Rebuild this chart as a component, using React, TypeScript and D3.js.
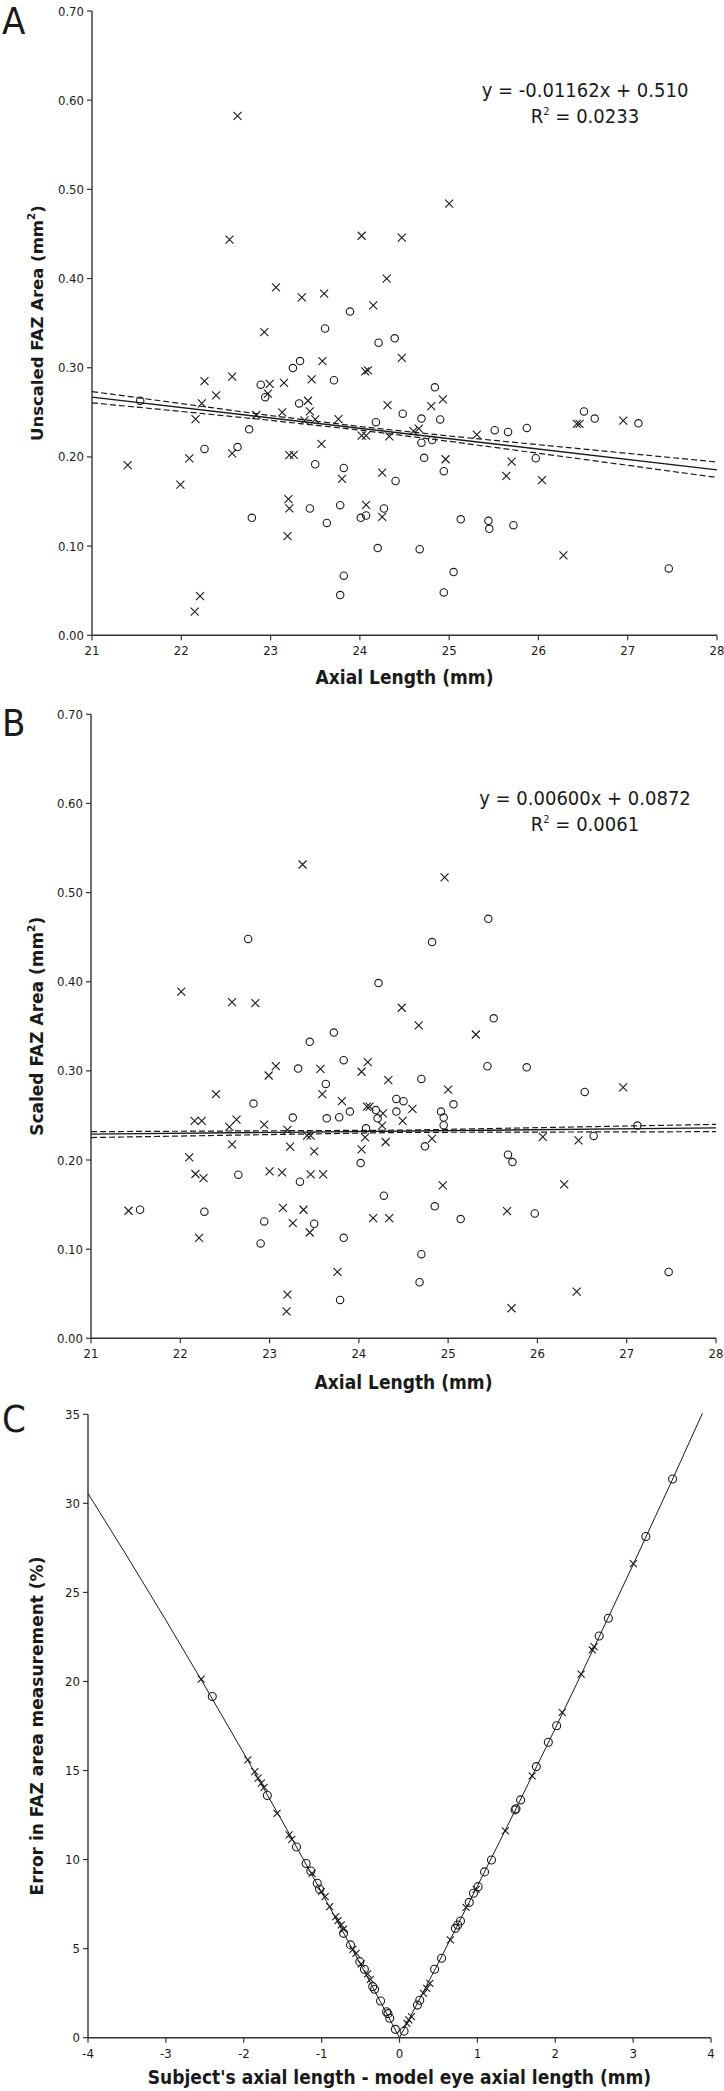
import React from "react";
import * as d3 from "d3";

const W = 724;
const H = 2091;

// ---------- Panel A: unscaled FAZ area vs axial length ----------
const aCrossAL = [22.63,22.54,25.00,24.02,24.47,24.30,23.06,23.35,23.60,24.15,22.93,24.47,23.58,23.46,24.06,24.09,23.15,22.99,22.97,22.57,22.26,22.39,22.23,22.16,22.84,23.13,23.42,23.44,23.38,23.50,23.76,24.93,24.80,24.31,24.66,24.60,24.02,24.07,24.33,25.31,26.43,26.46,26.95,23.57,23.21,23.26,21.40,22.09,22.57,23.80,24.96,24.25,25.70,25.64,26.04,21.99,23.20,23.21,24.07,24.25,23.19,26.28,22.21,22.15];
const aCrossArea = [0.5825,0.4437,0.484,0.448,0.446,0.400,0.390,0.379,0.383,0.370,0.340,0.311,0.3075,0.287,0.296,0.297,0.283,0.282,0.271,0.290,0.285,0.269,0.260,0.2425,0.247,0.250,0.263,0.251,0.241,0.242,0.2425,0.2646,0.257,0.258,0.2317,0.229,0.224,0.224,0.223,0.225,0.237,0.237,0.2407,0.2146,0.2019,0.2022,0.1907,0.1985,0.204,0.1754,0.1974,0.1825,0.1948,0.1787,0.1739,0.169,0.1526,0.1422,0.1463,0.1328,0.1112,0.0896,0.044,0.0265];
const aCircleAL = [23.89,23.61,24.21,24.39,23.33,23.25,23.71,22.89,22.94,21.54,22.76,23.32,24.84,24.48,24.69,24.90,24.18,24.69,24.81,25.51,25.66,25.87,26.51,26.63,27.12,22.26,22.63,23.50,23.82,24.72,24.94,24.40,25.97,23.44,23.78,24.27,22.79,23.63,24.01,24.07,25.13,25.44,25.45,25.72,24.20,24.67,27.46,25.05,23.82,23.78,24.94];
const aCircleArea = [0.363,0.344,0.328,0.333,0.3075,0.2996,0.286,0.281,0.267,0.263,0.231,0.260,0.278,0.2485,0.243,0.242,0.239,0.216,0.219,0.230,0.228,0.2325,0.251,0.243,0.2377,0.209,0.211,0.1918,0.1877,0.199,0.184,0.173,0.1985,0.1422,0.1459,0.1422,0.1317,0.126,0.1317,0.1343,0.130,0.1284,0.1194,0.1235,0.0978,0.0966,0.075,0.0709,0.0668,0.0451,0.0481];
const aFitX = [21, 28];
const aFitY = [0.2670, 0.1856];
const aCiX = [21, 22, 23, 24, 25, 26, 27, 28];
const aCiUpper = [0.2733, 0.2598, 0.2464, 0.2341, 0.2235, 0.2137, 0.2040, 0.1943];
const aCiLower = [0.2607, 0.2510, 0.2410, 0.2301, 0.2175, 0.2041, 0.1906, 0.1769];
const aEquation = "y = -0.01162x + 0.510";
const aR2 = "0.0233";

// ---------- Panel B: scaled FAZ area vs axial length ----------
const bCrossAL = [23.37,24.96,22.01,22.58,22.84,24.48,24.67,25.31,24.10,23.07,22.99,23.57,24.03,24.33,26.96,25.00,22.40,23.59,23.81,24.09,24.12,24.60,24.27,22.16,22.24,22.63,24.49,22.94,22.55,24.26,23.20,23.42,23.46,24.07,24.82,26.06,26.46,24.30,22.58,23.23,23.50,24.03,22.10,22.17,22.26,23.00,23.14,23.46,23.60,24.94,26.30,23.15,23.38,21.42,25.66,24.16,24.34,23.26,23.45,22.21,23.76,26.44,23.20,25.71,23.19];
const bCrossArea = [0.5315,0.517,0.389,0.3772,0.376,0.3708,0.351,0.3408,0.3097,0.3052,0.2948,0.3022,0.299,0.2895,0.2816,0.279,0.2738,0.2738,0.266,0.260,0.260,0.2573,0.2524,0.244,0.244,0.2453,0.2438,0.2397,0.2371,0.2386,0.2337,0.2273,0.2273,0.2255,0.224,0.226,0.222,0.2202,0.2176,0.215,0.2097,0.212,0.203,0.1843,0.1798,0.1873,0.1861,0.1839,0.1839,0.1716,0.1727,0.1464,0.1442,0.1431,0.1427,0.1348,0.1348,0.1292,0.1187,0.1127,0.0745,0.0524,0.049,0.0337,0.0303];
const bCircleAL = [25.45,22.76,24.82,24.22,25.51,23.72,23.45,23.83,23.32,25.44,25.88,24.70,23.63,26.53,24.42,24.50,22.82,25.06,24.19,23.90,24.42,24.92,23.26,23.64,23.78,24.21,24.95,24.95,27.12,24.08,26.63,24.74,25.67,25.72,24.02,22.65,23.34,24.28,24.85,21.55,22.27,25.97,25.14,22.94,23.50,23.83,22.90,24.70,27.47,24.68,23.79];
const bCircleArea = [0.4706,0.448,0.4445,0.3985,0.359,0.343,0.3326,0.312,0.3026,0.3052,0.304,0.291,0.2854,0.2764,0.2685,0.266,0.2633,0.2625,0.256,0.2543,0.2543,0.2543,0.2476,0.2468,0.248,0.2468,0.2476,0.239,0.2386,0.2356,0.227,0.2154,0.206,0.1977,0.1966,0.1835,0.1757,0.160,0.148,0.1442,0.142,0.140,0.1337,0.1311,0.1285,0.1127,0.1064,0.0944,0.0745,0.0629,0.043];
const bFitX = [21, 28];
const bFitY = [0.2290, 0.2360];
const bCiX = [21, 24.5, 28];
const bCiUpper = [0.2318, 0.2335, 0.2400];
const bCiLower = [0.2252, 0.2310, 0.2318];
const bEquation = "y = 0.00600x + 0.0872";
const bR2 = "0.0061";

// ---------- Panel C: error vs axial length difference ----------
const cCrossDiff = [-2.546,-1.947,-1.858,-1.816,-1.774,-1.739,-1.573,-1.418,-1.383,-1.122,-1.003,-0.955,-0.896,-0.819,-0.789,-0.748,-0.718,-0.599,-0.558,-0.493,-0.41,-0.374,0.095,0.119,0.154,0.309,0.35,0.39,0.653,0.855,0.985,1.359,1.703,2.089,2.332,2.475,2.498,3.003];
const cCrossErr = [20.13,15.6,14.94,14.57,14.29,14.06,12.6,11.39,11.14,9.23,8.20,7.92,7.36,6.80,6.57,6.33,6.10,4.96,4.74,4.14,3.58,3.28,0.8,1.0,1.18,2.49,2.77,3.05,5.49,7.32,8.33,11.61,14.7,18.26,20.41,21.78,21.96,26.62];
const cCircleDiff = [-2.404,-1.697,-1.323,-1.199,-1.139,-1.056,-1.027,-0.718,-0.629,-0.510,-0.451,-0.344,-0.32,-0.243,-0.166,-0.148,-0.125,-0.053,0.059,0.23,0.26,0.451,0.54,0.718,0.748,0.783,0.896,0.95,1.009,1.092,1.181,1.484,1.496,1.555,1.757,1.911,2.018,2.564,2.682,3.163,3.507];
const cCircleErr = [19.16,13.6,10.71,9.78,9.36,8.67,8.35,5.86,5.21,4.27,3.84,2.87,2.72,2.06,1.46,1.35,1.09,0.47,0.37,1.83,2.1,3.84,4.46,6.14,6.33,6.55,7.60,8.11,8.48,9.31,9.98,12.79,12.85,13.35,15.22,16.59,17.51,22.55,23.55,28.14,31.37];
const cCurveDiff = [-4, -3.5, -3, -2.5, -2, -1.5, -1, -0.5, 0, 0.5, 1, 1.5, 2, 2.5, 3, 3.5, 3.89];
const cCurveErr = [30.56, 27.04, 23.44, 19.75, 15.97, 12.11, 8.16, 4.12, 0, 4.21, 8.51, 12.89, 17.36, 21.92, 26.56, 31.29, 35.06];

const alTicks = [21, 22, 23, 24, 25, 26, 27, 28];
const areaTicks = [0, 0.1, 0.2, 0.3, 0.4, 0.5, 0.6, 0.7];
const diffTicks = [-4, -3, -2, -1, 0, 1, 2, 3, 4];
const errTicks = [0, 5, 10, 15, 20, 25, 30, 35];

const COND = "'Liberation Sans Narrow','DejaVu Sans Condensed','Arial Narrow',sans-serif";
const WIDE = "'DejaVu Sans','Verdana',sans-serif";
const INK = "#1a1a1a";

function Cross({ x, y, s }: { x: number; y: number; s: number }) {
  return (
    <path
      d={`M${x - s},${y - s}L${x + s},${y + s}M${x - s},${y + s}L${x + s},${y - s}`}
      stroke={INK}
      strokeWidth={1.1}
      fill="none"
    />
  );
}

function Ring({ x, y, r }: { x: number; y: number; r: number }) {
  return <circle cx={x} cy={y} r={r} stroke={INK} strokeWidth={1.1} fill="none" />;
}

function Axes({
  xs, ys, xTicks, yTicks, xFmt, yFmt,
}: {
  xs: d3.ScaleLinear<number, number>;
  ys: d3.ScaleLinear<number, number>;
  xTicks: number[];
  yTicks: number[];
  xFmt: (v: number) => string;
  yFmt: (v: number) => string;
}) {
  const [x0, x1] = xs.range();
  const [y0, y1] = ys.range();
  return (
    <g>
      <line x1={x0} x2={x1} y1={y0} y2={y0} stroke="#333" strokeWidth={1.4} />
      <line x1={x0} x2={x0} y1={y0} y2={y1} stroke="#333" strokeWidth={1.4} />
      {yTicks.map((t) => (
        <g key={"y" + t}>
          <line x1={x0 - 5} x2={x0} y1={ys(t)} y2={ys(t)} stroke="#333" strokeWidth={1.2} />
          <text x={x0 - 8} y={ys(t) + 4.5} textAnchor="end" fontFamily={COND} fontSize={13} fill={INK}>
            {yFmt(t)}
          </text>
        </g>
      ))}
      {xTicks.map((t) => (
        <g key={"x" + t}>
          <line x1={xs(t)} x2={xs(t)} y1={y0} y2={y0 + 5} stroke="#333" strokeWidth={1.2} />
          <text x={xs(t)} y={y0 + 20} textAnchor="middle" fontFamily={COND} fontSize={13} fill={INK}>
            {xFmt(t)}
          </text>
        </g>
      ))}
    </g>
  );
}

function ScatterPanel({
  top, bottom, left, right, letter, letterY, yTitle, yTitleSize, xTitleY,
  crossX, crossY, circX, circY, fitX, fitY, ciX, ciUp, ciLo, eq, r2, eqY,
}: any) {
  const xs = d3.scaleLinear().domain([21, 28]).range([left, right]);
  const ys = d3.scaleLinear().domain([0, 0.7]).range([bottom, top]);
  const line = d3.line<[number, number]>().x((d) => xs(d[0])).y((d) => ys(d[1]));
  const fit = line(fitX.map((x: number, i: number) => [x, fitY[i]]));
  const up = line(ciX.map((x: number, i: number) => [x, ciUp[i]]));
  const lo = line(ciX.map((x: number, i: number) => [x, ciLo[i]]));
  const fmt2 = d3.format(".2f");
  const cx = (left + right) / 2;
  return (
    <g>
      <text x={2} y={letterY} fontFamily={COND} fontSize={38} fill={INK}>{letter}</text>
      <Axes xs={xs} ys={ys} xTicks={alTicks} yTicks={areaTicks} xFmt={(v) => String(v)} yFmt={fmt2} />
      <path d={fit || ""} stroke={INK} strokeWidth={1.3} fill="none" />
      <path d={up || ""} stroke={INK} strokeWidth={1.2} strokeDasharray="6,3" fill="none" />
      <path d={lo || ""} stroke={INK} strokeWidth={1.2} strokeDasharray="6,3" fill="none" />
      {crossX.map((x: number, i: number) => (
        <Cross key={"c" + i} x={xs(x)} y={ys(crossY[i])} s={4} />
      ))}
      {circX.map((x: number, i: number) => (
        <Ring key={"o" + i} x={xs(x)} y={ys(circY[i])} r={3.7} />
      ))}
      <text x={585} y={eqY} textAnchor="middle" fontFamily={COND} fontSize={20} fill={INK}>{eq}</text>
      <text x={585} y={eqY + 26} textAnchor="middle" fontFamily={COND} fontSize={20} fill={INK}>
        R<tspan dy={-8} fontSize={11}>2</tspan><tspan dy={8}> = {r2}</tspan>
      </text>
      <text
        transform={`translate(37,${(top + bottom) / 2}) rotate(-90)`}
        textAnchor="middle"
        dominantBaseline="central"
        fontFamily={WIDE}
        fontWeight="bold"
        fontSize={yTitleSize}
        fill={INK}
      >
        {yTitle}<tspan dy={-6} fontSize={yTitleSize * 0.62}>2</tspan><tspan dy={6}>)</tspan>
      </text>
      <text x={cx} y={xTitleY} textAnchor="middle" fontFamily={COND} fontWeight="bold" fontSize={19} fill={INK}>
        Axial Length (mm)
      </text>
    </g>
  );
}

function ErrorPanel() {
  const left = 88, right = 711, top = 1414.3, bottom = 2037.7;
  const xs = d3.scaleLinear().domain([-4, 4]).range([left, right]);
  const ys = d3.scaleLinear().domain([0, 35]).range([bottom, top]);
  const curve = d3.line<[number, number]>().x((d) => xs(d[0])).y((d) => ys(d[1]))(
    cCurveDiff.map((x, i) => [x, cCurveErr[i]] as [number, number])
  );
  return (
    <g>
      <text x={2} y={1432} fontFamily={COND} fontSize={38} fill={INK}>C</text>
      <Axes xs={xs} ys={ys} xTicks={diffTicks} yTicks={errTicks} xFmt={(v) => String(v)} yFmt={(v) => String(v)} />
      <path d={curve || ""} stroke={INK} strokeWidth={1} fill="none" />
      {cCrossDiff.map((x, i) => (
        <Cross key={"c" + i} x={xs(x)} y={ys(cCrossErr[i])} s={3.5} />
      ))}
      {cCircleDiff.map((x, i) => (
        <Ring key={"o" + i} x={xs(x)} y={ys(cCircleErr[i])} r={4} />
      ))}
      <text
        transform={`translate(37,${(top + bottom) / 2}) rotate(-90)`}
        textAnchor="middle"
        dominantBaseline="central"
        fontFamily={WIDE}
        fontWeight="bold"
        fontSize={17}
        fill={INK}
      >
        Error in FAZ area measurement (%)
      </text>
      <text x={(left + right) / 2} y={2084} textAnchor="middle" fontFamily={COND} fontWeight="bold" fontSize={19} fill={INK}>
        Subject's axial length - model eye axial length (mm)
      </text>
    </g>
  );
}

export default function App() {
  return (
    <svg
      width={W}
      height={H}
      viewBox={`0 0 ${W} ${H}`}
      style={{ position: "absolute", left: 0, top: 0, background: "#fff" }}
    >
      <rect x={0} y={0} width={W} height={H} fill="#fff" />
      <ScatterPanel
        top={11} bottom={635.3} left={92} right={717}
        letter="A" letterY={34}
        yTitle="Unscaled FAZ Area (mm" yTitleSize={16.5}
        xTitleY={684}
        crossX={aCrossAL} crossY={aCrossArea} circX={aCircleAL} circY={aCircleArea}
        fitX={aFitX} fitY={aFitY} ciX={aCiX} ciUp={aCiUpper} ciLo={aCiLower}
        eq={aEquation} r2={aR2} eqY={97}
      />
      <ScatterPanel
        top={714.3} bottom={1338.3} left={91} right={716}
        letter="B" letterY={736}
        yTitle="Scaled FAZ Area (mm" yTitleSize={17}
        xTitleY={1389}
        crossX={bCrossAL} crossY={bCrossArea} circX={bCircleAL} circY={bCircleArea}
        fitX={bFitX} fitY={bFitY} ciX={bCiX} ciUp={bCiUpper} ciLo={bCiLower}
        eq={bEquation} r2={bR2} eqY={805}
      />
      <ErrorPanel />
    </svg>
  );
}
